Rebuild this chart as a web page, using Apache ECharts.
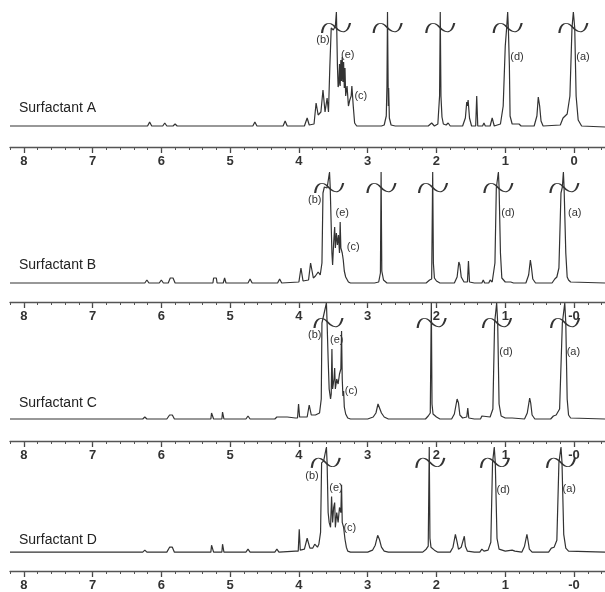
<!DOCTYPE html>
<html>
<head>
<meta charset="utf-8">
<script src="https://cdn.jsdelivr.net/npm/echarts@6/dist/echarts.min.js"></script>
<style>
  html, body { margin: 0; padding: 0; background: #fff; }
  #chart { width: 605px; height: 592px; }
</style>
</head>
<body>
<div id="chart"></div>
<script>
// chemical shift (ppm) ticks
const majorTicks = [8, 7, 6, 5, 4, 3, 2, 1, 0]
const labelsA = ["8", "7", "6", "5", "4", "3", "2", "1", "0"]
const labelsBCD = ["8", "7", "6", "5", "4", "3", "2", "1", "-0"]
const minorTicks = [8.2, 8.0, 7.8, 7.6, 7.4, 7.2, 7.0, 6.8, 6.6, 6.4, 6.2, 6.0, 5.8, 5.6, 5.4, 5.2,
  5.0, 4.8, 4.6, 4.4, 4.2, 4.0, 3.8, 3.6, 3.4, 3.2, 3.0, 2.8, 2.6, 2.4, 2.2, 2.0, 1.8, 1.6, 1.4,
  1.2, 1.0, 0.8, 0.6, 0.4, 0.2, 0.0, -0.2, -0.4]

const panelNames = ["Surfactant A", "Surfactant B", "Surfactant C", "Surfactant D"]

// spectra: [ppm, intensity above baseline]
const specA = [
  [8.2, 0], [6.2, 0], [6.17, 4], [6.14, 0], [5.98, 0], [5.95, 3], [5.92, 0], [5.83, 0], [5.8, 2], [5.77, 0],
  [5.52, 0], [5.51, 1], [5.5, 0], [5.2, 0], [5.18, 2], [5.16, 0], [5.02, 0], [5.0, 2], [4.98, 0],
  [4.67, 0], [4.64, 4], [4.61, 0], [4.23, 0], [4.2, 5], [4.17, 0], [3.92, 0], [3.88, 8], [3.85, 1],
  [3.78, 2], [3.75, 23], [3.72, 11], [3.68, 14], [3.65, 36], [3.62, 14], [3.59, 28], [3.57, 14],
  [3.55, 60], [3.53, 98], [3.50, 96], [3.47, 100], [3.455, 114], [3.45, 98], [3.44, 60], [3.43, 39],
  [3.42, 42], [3.41, 62], [3.40, 40], [3.39, 66], [3.38, 45], [3.37, 69], [3.36, 44], [3.35, 64],
  [3.34, 38], [3.33, 58], [3.32, 30], [3.30, 40], [3.28, 20], [3.26, 26], [3.24, 30], [3.23, 40],
  [3.21, 20], [3.19, 3], [3.16, 0],
  [2.8, 0], [2.76, 1], [2.73, 10], [2.72, 40], [2.712, 114], [2.70, 20], [2.695, 38], [2.685, 8], [2.66, 1], [2.6, 0],
  [2.12, 0], [2.07, 3], [2.03, 0], [1.98, 2], [1.955, 30], [1.945, 114], [1.935, 30], [1.92, 9], [1.9, 2],
  [1.86, 1], [1.83, 3], [1.8, 0],
  [1.62, 0], [1.58, 8], [1.56, 24], [1.55, 20], [1.54, 26], [1.52, 8], [1.49, 0],
  [1.43, 0], [1.415, 30], [1.4, 0], [1.33, 0], [1.31, 3], [1.29, 0], [1.22, 0], [1.19, 8], [1.16, 0],
  [1.07, 2], [1.03, 20], [1.0, 80], [0.98, 98], [0.965, 114], [0.955, 98], [0.94, 60], [0.93, 10],
  [0.9, 2], [0.8, 2], [0.79, 3], [0.77, 0],
  [0.58, 0], [0.54, 10], [0.52, 29], [0.5, 20], [0.48, 5], [0.45, 0],
  [0.2, 1], [0.16, 8], [0.1, 12], [0.06, 30], [0.03, 98], [0.01, 114], [-0.01, 98], [-0.03, 30],
  [-0.06, 6], [-0.08, 4], [-0.11, 0], [-0.45, -1]
]

const specB = [
  [8.2, 0], [6.24, 0], [6.21, 3], [6.18, 0], [6.03, 0], [6.0, 3], [5.97, 0], [5.9, 0], [5.87, 5], [5.83, 5],
  [5.8, 0], [5.6, 0], [5.59, 1], [5.58, 0], [5.25, 0], [5.24, 5], [5.2, 5], [5.19, 0], [5.1, 0], [5.08, 5],
  [5.06, 0], [4.74, 0], [4.71, 4], [4.68, 0], [4.31, 0], [4.28, 4], [4.25, 0], [4.0, 1], [3.97, 15],
  [3.94, 2], [3.86, 3], [3.83, 20], [3.79, 5], [3.76, 7], [3.72, 11], [3.69, 8],
  [3.665, 20], [3.65, 90], [3.63, 96], [3.59, 95], [3.555, 111], [3.545, 96], [3.52, 30], [3.51, 18],
  [3.495, 40], [3.48, 56], [3.47, 35], [3.455, 50], [3.44, 38], [3.425, 48], [3.41, 30], [3.40, 61],
  [3.39, 35], [3.37, 30], [3.355, 23], [3.34, 12], [3.32, 6], [3.28, 1], [3.25, 0],
  [2.9, 0], [2.84, 1], [2.815, 10], [2.805, 111], [2.795, 12], [2.785, 12], [2.77, 3], [2.72, 0],
  [2.15, 0], [2.1, 3], [2.07, 4], [2.055, 111], [2.045, 20], [2.03, 5], [2.0, 2], [1.95, 0],
  [1.74, 0], [1.7, 6], [1.675, 21], [1.66, 18], [1.64, 6], [1.6, 1], [1.55, 1], [1.535, 22], [1.52, 1],
  [1.45, 0], [1.34, 0], [1.32, 3], [1.3, 0], [1.24, 0], [1.22, 3], [1.19, 1],
  [1.18, 3], [1.15, 20], [1.13, 95], [1.10, 111], [1.09, 96], [1.07, 30], [1.05, 5], [1.0, 1],
  [0.92, 1], [0.9, 2], [0.88, 0],
  [0.7, 0], [0.66, 8], [0.635, 23], [0.62, 16], [0.6, 4], [0.56, 0],
  [0.32, 0], [0.28, 4], [0.25, 6], [0.22, 15], [0.19, 90], [0.17, 96], [0.155, 111], [0.145, 96],
  [0.12, 30], [0.1, 6], [0.08, 3], [0.05, 1], [-0.45, 0]
]

const specC = [
  [8.2, 0], [8.1, 0], [8.08, 1], [8.06, 0], [6.27, 0], [6.24, 2], [6.21, 0], [6.04, 0], [6.02, 1], [6.0, 0],
  [5.92, 0], [5.88, 4], [5.84, 4], [5.81, 0], [5.6, 0], [5.59, 1], [5.58, 0], [5.28, 0], [5.27, 6], [5.25, 6],
  [5.24, 0], [5.12, 0], [5.11, 7], [5.09, 0], [4.77, 0], [4.74, 3], [4.71, 0], [4.35, 0], [4.32, 2],
  [4.2, 2], [4.17, 2], [4.05, 1], [4.02, 1], [4.005, 15], [3.99, 2], [3.88, 2], [3.85, 14], [3.82, 4],
  [3.76, 4], [3.74, 5], [3.7, 6],
  [3.675, 20], [3.665, 96], [3.64, 98], [3.60, 116], [3.59, 96], [3.575, 60], [3.56, 30], [3.54, 20],
  [3.53, 25], [3.52, 70], [3.51, 30], [3.49, 40], [3.48, 51], [3.47, 30], [3.45, 40], [3.43, 35],
  [3.41, 45], [3.39, 50], [3.38, 88], [3.37, 40], [3.36, 23], [3.35, 28], [3.34, 12], [3.32, 5],
  [3.29, 1], [3.25, 0],
  [3.0, 0], [2.92, 2], [2.88, 6], [2.85, 15], [2.83, 14], [2.8, 6], [2.76, 2], [2.7, 0],
  [2.16, 0], [2.12, 3], [2.09, 6], [2.075, 116], [2.065, 15], [2.05, 5], [2.0, 2], [1.95, 0],
  [1.78, 0], [1.74, 5], [1.7, 20], [1.68, 16], [1.66, 4], [1.62, 1], [1.56, 2], [1.545, 11], [1.53, 1],
  [1.45, 0], [1.36, 0], [1.34, 3], [1.32, 1],
  [1.22, 2], [1.18, 10], [1.155, 96], [1.14, 98], [1.125, 116], [1.11, 96], [1.09, 15], [1.06, 3],
  [1.0, 1], [0.9, 1],
  [0.72, 0], [0.68, 6], [0.645, 21], [0.63, 16], [0.61, 4], [0.57, 0],
  [0.34, 0], [0.3, 3], [0.26, 4], [0.21, 10], [0.17, 96], [0.15, 98], [0.135, 116], [0.12, 96],
  [0.1, 20], [0.08, 4], [0.05, 1], [-0.45, 0]
]

const specD = [
  [8.2, 0], [6.27, 0], [6.24, 2], [6.21, 0], [6.04, 0], [6.02, 2], [6.0, 0], [5.92, 0], [5.88, 5], [5.84, 5],
  [5.81, 0], [5.28, 0], [5.27, 7], [5.25, 7], [5.24, 0], [5.12, 0], [5.11, 8], [5.09, 0], [4.77, 0],
  [4.74, 3], [4.71, 0], [4.35, 0], [4.32, 3], [4.29, 0], [4.05, 1], [4.01, 1], [3.995, 23], [3.98, 2],
  [3.92, 3], [3.88, 14], [3.84, 4], [3.8, 4], [3.77, 8], [3.73, 5],
  [3.71, 8], [3.685, 20], [3.67, 90], [3.64, 92], [3.60, 106], [3.59, 90], [3.575, 40], [3.56, 30],
  [3.54, 25], [3.525, 56], [3.51, 30], [3.495, 45], [3.48, 50], [3.47, 25], [3.45, 40], [3.43, 30],
  [3.41, 45], [3.39, 40], [3.38, 68], [3.37, 30], [3.35, 25], [3.33, 13], [3.31, 5], [3.29, 1], [3.25, 0],
  [3.0, 0], [2.93, 2], [2.89, 7], [2.855, 17], [2.83, 13], [2.8, 5], [2.76, 1], [2.7, 0],
  [2.2, 0], [2.15, 3], [2.12, 6], [2.105, 106], [2.095, 14], [2.08, 5], [2.03, 2], [1.98, 0],
  [1.8, 0], [1.76, 5], [1.725, 18], [1.7, 10], [1.68, 3], [1.64, 5], [1.595, 16], [1.58, 6], [1.55, 1],
  [1.45, 0], [1.37, 0], [1.34, 3], [1.31, 1],
  [1.25, 2], [1.21, 10], [1.185, 90], [1.17, 92], [1.16, 106], [1.145, 90], [1.12, 14], [1.09, 3],
  [1.0, 1], [0.9, 2], [0.86, 1],
  [0.76, 0], [0.72, 6], [0.685, 18], [0.67, 12], [0.65, 3], [0.61, 0],
  [0.37, 0], [0.33, 4], [0.29, 5], [0.25, 12], [0.22, 90], [0.2, 92], [0.19, 106], [0.175, 90],
  [0.15, 18], [0.12, 4], [0.08, 1], [-0.45, 0]
]

// truncated (broken) peaks, ppm
const cutA = [3.46, 2.71, 1.945, 0.965, 0.01]
const cutB = [3.56, 2.80, 2.05, 1.10, 0.14]
const cutC = [3.57, 2.07, 1.12, 0.13]
const cutD = [3.61, 2.09, 1.15, 0.19]

// peak assignments: [label, ppm, intensity]
const peakLabA = [["(b)", 3.65, 86], ["(e)", 3.29, 71], ["(c)", 3.10, 30], ["(d)", 0.83, 69], ["(a)", -0.13, 69]]
const peakLabB = [["(b)", 3.77, 83], ["(e)", 3.37, 70], ["(c)", 3.21, 36], ["(d)", 0.96, 70], ["(a)", -0.01, 70]]
const peakLabC = [["(b)", 3.77, 84], ["(e)", 3.45, 79], ["(c)", 3.24, 28], ["(d)", 0.99, 67], ["(a)", 0.01, 67]]
const peakLabD = [["(b)", 3.81, 77], ["(e)", 3.46, 65], ["(c)", 3.26, 24], ["(d)", 1.03, 63], ["(a)", 0.07, 64]]

const spectra = [specA, specB, specC, specD]
const cuts = [cutA, cutB, cutC, cutD]
const peakLabs = [peakLabA, peakLabB, peakLabC, peakLabD]
const axisLabels = [labelsA, labelsBCD, labelsBCD, labelsBCD]

// pixel layout: grid top, axis line y, spectrum baseline y, break mark y, title top
const layout = [
  { top: 12, axis: 147, base: 126, brk: 28, title: 101 },
  { top: 172, axis: 302, base: 283, brk: 188, title: 258 },
  { top: 303, axis: 441, base: 419, brk: 323, title: 396 },
  { top: 447, axis: 572, base: 553, brk: 463, title: 533 },
]

const H = 592
const tildePath = "path://M0,9 C1,2 7,0 13,5 C19,10 25,9 27,2"
const ink = "#333"

const grids = [], xAxes = [], yAxes = [], series = [], titles = []

layout.forEach((L, i) => {
  grids.push({ left: 10, right: 0, top: L.top, bottom: H - L.axis })

  xAxes.push({
    gridIndex: i, type: "value", inverse: true, min: -0.45, max: 8.2, position: "bottom",
    axisLine: { show: true, onZero: false, lineStyle: { color: "#555", width: 1.3 } },
    axisTick: { show: true, length: 6, customValues: majorTicks, lineStyle: { color: "#444", width: 1.3 } },
    axisLabel: {
      show: true, customValues: majorTicks, margin: 8,
      fontSize: 13, fontWeight: "bold", color: "#333", fontFamily: "Liberation Sans",
      formatter: (v) => {
        const k = majorTicks.findIndex((t) => Math.abs(t - v) < 1e-6)
        return k < 0 ? "" : axisLabels[i][k]
      },
    },
    splitLine: { show: false },
  })
  xAxes.push({
    gridIndex: i, type: "value", inverse: true, min: -0.45, max: 8.2, position: "bottom",
    axisLine: { show: false, onZero: false },
    axisTick: { show: true, length: 3, customValues: minorTicks, lineStyle: { color: "#555", width: 1 } },
    axisLabel: { show: false },
    splitLine: { show: false },
  })

  yAxes.push({
    gridIndex: i, type: "value", show: false,
    min: L.base - L.axis, max: L.base - L.top,
    splitLine: { show: false },
  })

  titles.push({
    text: panelNames[i], left: 19, top: L.title, padding: 0,
    textStyle: { fontSize: 14, fontWeight: "normal", color: "#222", fontFamily: "Liberation Sans" },
  })

  const brkVal = L.base - L.brk
  series.push({
    type: "line",
    xAxisIndex: 2 * i,
    yAxisIndex: i,
    data: spectra[i],
    showSymbol: false,
    symbol: "none",
    clip: true,
    lineStyle: { color: ink, width: 1.2 },
    markPoint: {
      silent: true,
      data: [
        ...cuts[i].map((p) => ({
          coord: [p, brkVal],
          symbol: tildePath,
          symbolSize: [28, 10],
          itemStyle: { color: "transparent", borderColor: ink, borderWidth: 1.3 },
          label: { show: false },
        })),
        ...peakLabs[i].map(([t, p, v]) => ({
          name: t,
          coord: [p, v],
          symbol: "circle",
          symbolSize: 1,
          itemStyle: { color: "transparent" },
          label: {
            show: true, position: "inside", formatter: "{b}",
            fontSize: 11, color: "#333", fontFamily: "Liberation Sans",
          },
        })),
      ],
    },
  })
})

const chart = echarts.init(document.getElementById("chart"))
chart.setOption({
  animation: false,
  backgroundColor: "#fff",
  title: titles,
  grid: grids,
  xAxis: xAxes,
  yAxis: yAxes,
  series: series,
})
</script>
</body>
</html>
